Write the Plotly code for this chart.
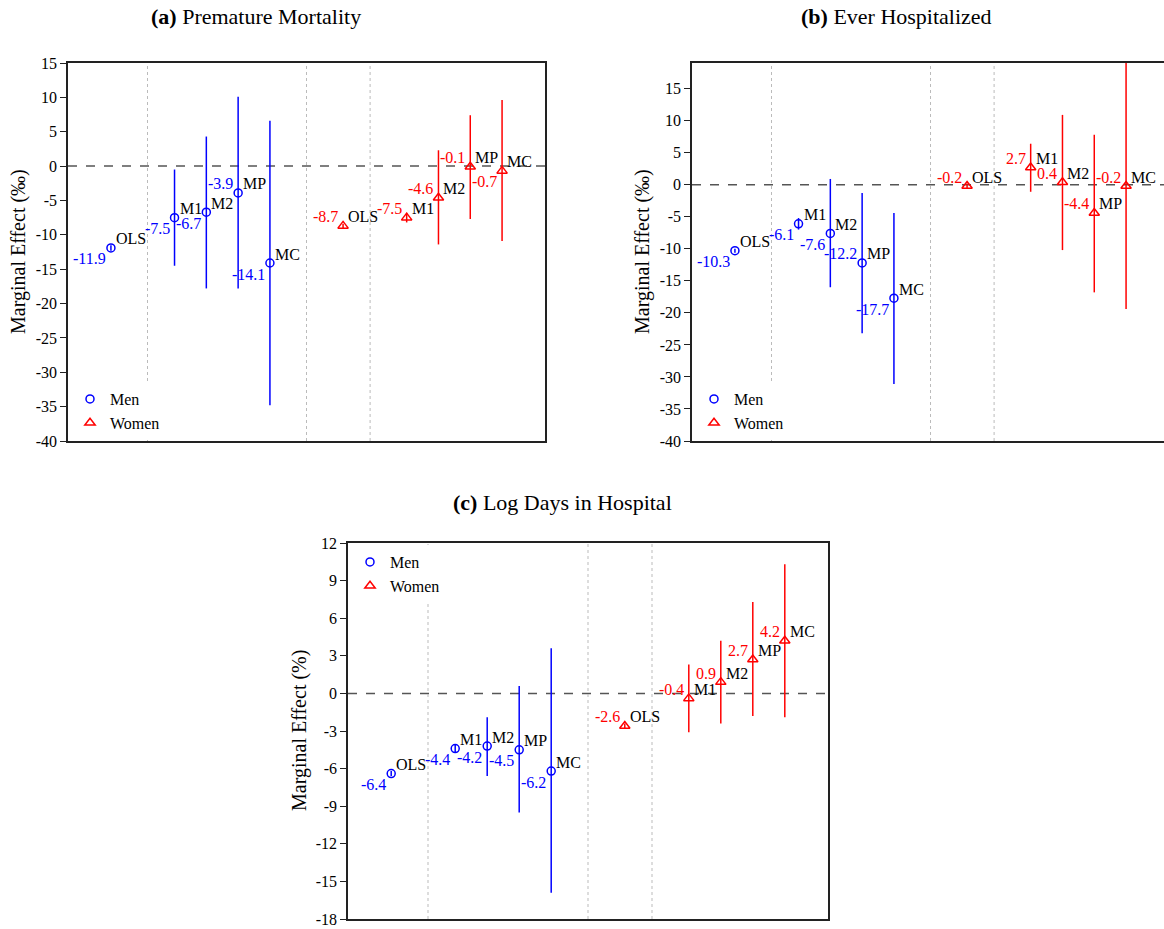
import plotly.graph_objects as go

# ---------------- data ----------------
models = ["OLS", "M1", "M2", "MP", "MC"]

a_men_est = [-11.9, -7.5, -6.7, -3.9, -14.1]
a_men_lo = [-12.3, -14.5, -17.8, -17.8, -34.8]
a_men_hi = [-11.5, -0.5, 4.3, 10.1, 6.6]
a_women_est = [-8.7, -7.5, -4.6, -0.1, -0.7]
a_women_lo = [-9.0, -8.2, -11.4, -7.7, -10.9]
a_women_hi = [-8.4, -6.8, 2.3, 7.4, 9.6]

b_men_est = [-10.3, -6.1, -7.6, -12.2, -17.7]
b_men_lo = [-10.6, -7.0, -16.0, -23.2, -31.1]
b_men_hi = [-10.0, -5.2, 0.9, -1.3, -4.4]
b_women_est = [-0.2, 2.7, 0.4, -4.4, -0.2]
b_women_lo = [-0.6, -1.1, -10.2, -16.8, -19.4]
b_women_hi = [0.2, 6.4, 10.9, 7.8, 19.0]

c_men_est = [-6.4, -4.4, -4.2, -4.5, -6.2]
c_men_lo = [-6.6, -4.7, -6.6, -9.5, -15.9]
c_men_hi = [-6.2, -4.1, -1.9, 0.6, 3.6]
c_women_est = [-2.6, -0.4, 0.9, 2.7, 4.2]
c_women_lo = [-2.8, -3.1, -2.4, -1.8, -1.9]
c_women_hi = [-2.4, 2.3, 4.2, 7.3, 10.3]

ticks_ab = [15, 10, 5, 0, -5, -10, -15, -20, -25, -30, -35, -40]
ticks_c = [12, 9, 6, 3, 0, -3, -6, -9, -12, -15, -18]

titles = ["<b>(a)</b> Premature Mortality", "<b>(b)</b> Ever Hospitalized",
          "<b>(c)</b> Log Days in Hospital"]
ytitles = ["Marginal Effect (\u2030)", "Marginal Effect (\u2030)", "Marginal Effect (%)"]

# ---------------- layout helpers (positions / styles) ----------------
W, H = 1164, 929
x_men = [1.35, 3.35, 4.35, 5.35, 6.35]
x_women = [8.65, 10.65, 11.65, 12.65, 13.65]
group_breaks = [2.5, 7.5, 9.5]

# value-label placement: 'll' lower-left, 'ul' upper-left
pos = {
    "a_men": ["ll", "ll", "ll", "ul", "ll"],
    "a_women": ["ul", "ul", "ul", "ul", "ll"],
    "b_men": ["ll", "ll", "ll", "ul", "ll"],
    "b_women": ["ul"] * 5,
    "c_men": ["ll"] * 5,
    "c_women": ["ul"] * 5,
}

FONT = "Liberation Serif, Times New Roman, serif"
BLUE = "#0000ff"
RED = "#ff0000"


def px_x(x):
    return x / W


def px_y(y):
    return 1 - y / H


panels = [
    dict(key="a", men=(a_men_est, a_men_lo, a_men_hi), women=(a_women_est, a_women_lo, a_women_hi),
         box=(68, 545, 63, 441), xr=[0, 15], yr=[-40, 15], ticks=ticks_ab, mirror_y=True,
         title_c=(256, 17), legend=(70, 382)),
    dict(key="b", men=(b_men_est, b_men_lo, b_men_hi), women=(b_women_est, b_women_lo, b_women_hi),
         box=(692, 1164, 63, 441), xr=[0, (1164 - 692) / 31.8], yr=[-40, 19], ticks=ticks_ab, mirror_y=False,
         title_c=(896, 17), legend=(694, 382)),
    dict(key="c", men=(c_men_est, c_men_lo, c_men_hi), women=(c_women_est, c_women_lo, c_women_hi),
         box=(348, 828, 543, 919), xr=[0, 15], yr=[-18, 12], ticks=ticks_c, mirror_y=True,
         title_c=(562, 502), legend=(350, 545)),
]

fig = go.Figure()
annotations = []
shapes = []
layout = {}

for i, p in enumerate(panels):
    n = i + 1
    xa = "x" if n == 1 else f"x{n}"
    ya = "y" if n == 1 else f"y{n}"
    leg = "legend" if n == 1 else f"legend{n}"
    x0, x1, y0, y1 = p["box"]

    for label, data, xs, color, sym, size in [
        ("Men", p["men"], x_men, BLUE, "circle-open", 8),
        ("Women", p["women"], x_women, RED, "triangle-up-open", 9),
    ]:
        est, lo, hi = data
        fig.add_trace(go.Scatter(
            x=xs, y=est, mode="markers", name=label, xaxis=xa, yaxis=ya, legend=leg,
            marker=dict(symbol=sym, size=size, color=color, line=dict(width=1.5, color=color)),
            error_y=dict(type="data", symmetric=False,
                         array=[h - e for h, e in zip(hi, est)],
                         arrayminus=[e - l for e, l in zip(est, lo)],
                         color=color, thickness=1.5, width=0),
            showlegend=True, hoverinfo="skip", cliponaxis=False,
        ))
        key = f"{p['key']}_{'men' if label == 'Men' else 'women'}"
        for xv, yv, m, ps in zip(xs, est, models, pos[key]):
            annotations.append(dict(
                x=xv, y=yv, xref=xa, yref=ya, text=m, showarrow=False,
                xanchor="left", yanchor="middle", xshift=3, yshift=9,
                font=dict(family=FONT, size=16, color="black")))
            annotations.append(dict(
                x=xv, y=yv, xref=xa, yref=ya, text=f"{yv:.1f}", showarrow=False,
                xanchor="right", yanchor="middle", xshift=-3,
                yshift=9 if ps == "ul" else -11,
                font=dict(family=FONT, size=16, color=color)))

    axis_line = dict(showline=True, linecolor="#222", linewidth=1.5)
    layout[("xaxis" if n == 1 else f"xaxis{n}")] = dict(
        domain=[px_x(x0), px_x(x1)], range=p["xr"], anchor=ya, automargin=False,
        showticklabels=False, ticks="", showgrid=False, zeroline=False,
        mirror=True, **axis_line)
    layout[("yaxis" if n == 1 else f"yaxis{n}")] = dict(
        domain=[px_y(y1), px_y(y0)], range=p["yr"], anchor=xa, automargin=False,
        tickvals=p["ticks"], ticktext=[str(t) for t in p["ticks"]],
        ticks="outside", ticklen=6, tickwidth=1.2, tickcolor="#222",
        ticklabeloverflow="allow",
        tickfont=dict(family=FONT, size=16, color="black"),
        showgrid=False, zeroline=False, mirror=p["mirror_y"], **axis_line)

    layout[leg] = dict(
        x=px_x(p["legend"][0]), y=px_y(p["legend"][1]), xanchor="left", yanchor="top",
        xref="paper", yref="paper", bgcolor="white", borderwidth=0,
        font=dict(family=FONT, size=16, color="black"), itemwidth=30,
        tracegroupgap=0)

    # zero reference line
    shapes.append(dict(type="line", xref=f"{xa} domain", yref=ya, x0=0, x1=1, y0=0, y1=0,
                       line=dict(color="#555", width=1.5, dash="dash"), layer="below"))
    # group separators
    for gb in group_breaks:
        shapes.append(dict(type="line", xref=xa, yref=f"{ya} domain", x0=gb, x1=gb, y0=0, y1=1,
                           line=dict(color="#bbbbbb", width=1, dash="dot"), layer="below"))

    # titles
    annotations.append(dict(
        x=px_x(p["title_c"][0]), y=px_y(p["title_c"][1]), xref="paper", yref="paper",
        text=titles[i], showarrow=False, xanchor="center", yanchor="middle",
        font=dict(family=FONT, size=22, color="black")))
    annotations.append(dict(
        x=px_x(x0 - 49), y=px_y((y0 + y1) / 2), xref="paper", yref="paper",
        text=ytitles[i], showarrow=False, textangle=-90, xanchor="center", yanchor="middle",
        font=dict(family=FONT, size=20, color="black")))

fig.update_layout(
    width=W, height=H, autosize=False,
    margin=dict(l=0, r=0, t=0, b=0, pad=0, autoexpand=False),
    paper_bgcolor="white", plot_bgcolor="white",
    annotations=annotations, shapes=shapes,
    **layout,
)

fig.write_html("out.html")
